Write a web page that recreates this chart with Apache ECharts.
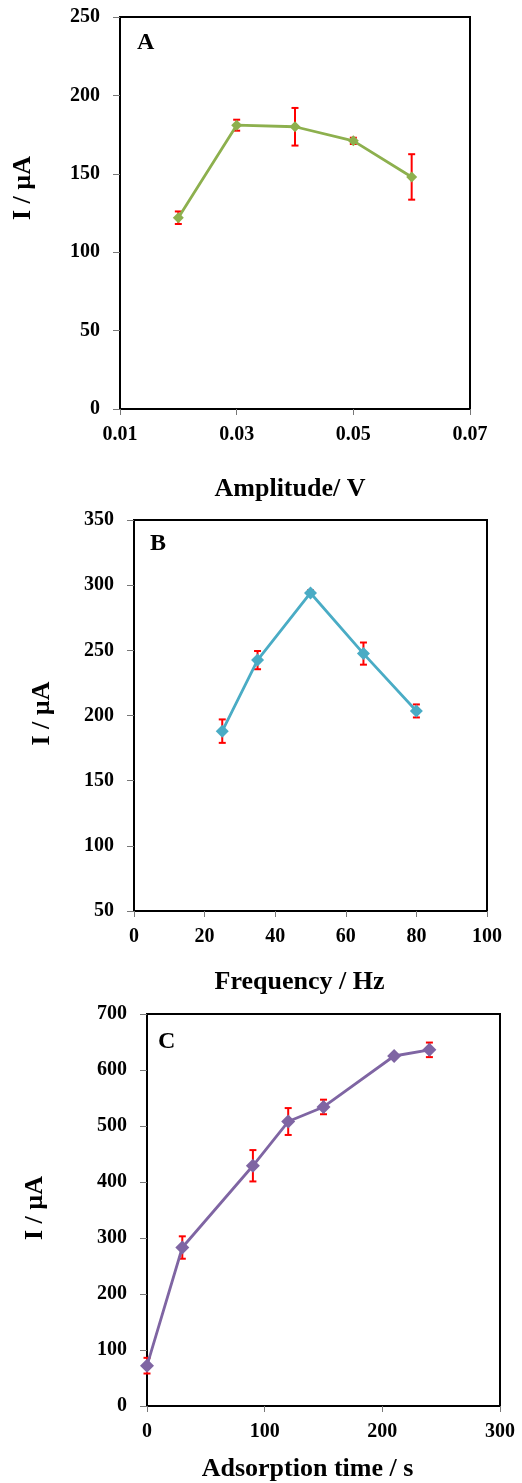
<!DOCTYPE html>
<html><head><meta charset="utf-8">
<script src="https://cdn.jsdelivr.net/npm/echarts@6/dist/echarts.min.js"></script>
<style>html,body{margin:0;padding:0;background:#fff}#c{width:522px;height:1483px}</style>
</head><body><div id="c"></div>
<script>
// Panel A: amplitude
const ampX = [0.02, 0.03, 0.04, 0.05, 0.06];
const ampI = [122, 181, 180, 171, 148];
const ampErr = [4, 3.5, 12, 2, 14.5];
// Panel B: frequency
const freqX = [25, 35, 50, 65, 80];
const freqI = [188, 242.5, 294, 247.5, 203.5];
const freqErr = [9, 7, 2, 8.5, 5];
// Panel C: adsorption time
const timeX = [0, 30, 90, 120, 150, 210, 240];
const timeI = [72, 283, 429, 508, 534, 625, 636];
const timeErr = [14, 20, 28, 24, 13, 3, 13];

const FONT = '"Liberation Serif","Times New Roman",serif';
const chart = echarts.init(document.getElementById('c'));

function pairs(xs, ys){ return xs.map((x,i)=>[x, ys[i]]); }
function errData(xs, ys, es){ return xs.map((x,i)=>[x, ys[i]-es[i], ys[i]+es[i]]); }

function errSeries(idx, xs, ys, es){
  return {
    type:'custom', xAxisIndex:idx, yAxisIndex:idx, z:1, silent:true,
    data: errData(xs, ys, es),
    encode:{x:0, y:[1,2]},
    renderItem:function(params, api){
      const lo = api.coord([api.value(0), api.value(1)]);
      const hi = api.coord([api.value(0), api.value(2)]);
      const w = 3.5;
      const st = {stroke:'#ff0000', lineWidth:2};
      return {type:'group', children:[
        {type:'line', shape:{x1:lo[0],y1:lo[1],x2:hi[0],y2:hi[1]}, style:st},
        {type:'line', shape:{x1:lo[0]-w,y1:lo[1],x2:lo[0]+w,y2:lo[1]}, style:st},
        {type:'line', shape:{x1:hi[0]-w,y1:hi[1],x2:hi[0]+w,y2:hi[1]}, style:st}
      ]};
    }
  };
}
function lineSeries(idx, xs, ys, color, size){
  return {
    type:'line', xAxisIndex:idx, yAxisIndex:idx, z:3,
    data: pairs(xs, ys), symbol:'diamond', symbolSize:size,
    lineStyle:{color:color, width:2.8}, itemStyle:{color:color}, silent:true
  };
}

const labelStyle = {color:'#000', fontFamily:FONT, fontWeight:'bold', fontSize:20};
const nameStyle = {color:'#000', fontFamily:FONT, fontWeight:'bold', fontSize:26};

function xAx(idx, min, max, interval, name, gap, fmt, pad){
  return {
    type:'value', gridIndex:idx, min:min, max:max, interval:interval,
    name:name, nameLocation:'middle', nameGap:gap, nameTextStyle:Object.assign({}, nameStyle, {padding:pad}),
    axisLine:{show:true, onZero:false, lineStyle:{color:'#000', width:2}},
    axisTick:{show:true, inside:false, length:6, lineStyle:{color:'#777', width:1}},
    axisLabel:Object.assign({margin:16, formatter:fmt}, labelStyle),
    splitLine:{show:false}
  };
}
function yAx(idx, min, max, interval, gap, pad){
  return {
    type:'value', gridIndex:idx, min:min, max:max, interval:interval,
    name:'I / µA', nameLocation:'middle', nameGap:gap, nameRotate:90,
    nameTextStyle:Object.assign({}, nameStyle, {padding:pad}),
    axisLine:{show:true, onZero:false, lineStyle:{color:'#000', width:2}},
    axisTick:{show:true, inside:false, length:7, lineStyle:{color:'#777', width:1}},
    axisLabel:Object.assign({margin:20}, labelStyle),
    splitLine:{show:false}
  };
}

const letterStyle = {fontFamily:FONT, fontWeight:'bold', fontSize:24, color:'#000'};
const option = {
  animation:false,
  backgroundColor:'#fff',
  title:[
    {text:'A', left:137, top:31, padding:0, textStyle:letterStyle},
    {text:'B', left:150, top:532, padding:0, textStyle:letterStyle},
    {text:'C', left:158, top:1030, padding:0, textStyle:letterStyle}
  ],
  grid:[
    {left:120, top:17, width:350, height:392, show:true, borderColor:'#000', borderWidth:2, backgroundColor:'transparent'},
    {left:134, top:520, width:353, height:391, show:true, borderColor:'#000', borderWidth:2, backgroundColor:'transparent'},
    {left:147, top:1014, width:353, height:392, show:true, borderColor:'#000', borderWidth:2, backgroundColor:'transparent'}
  ],
  xAxis:[
    xAx(0, 0.01, 0.07, 0.02, 'Amplitude/ V', 67, v=>v.toFixed(2), [0,10,0,0]),
    xAx(1, 0, 100, 20, 'Frequency / Hz', 58, v=>String(v), [0,22,0,0]),
    xAx(2, 0, 300, 100, 'Adsorption time / s', 50, v=>String(v), [0,32,0,0])
  ],
  yAxis:[
    yAx(0, 0, 250, 50, 84, [0,0,0,50]),
    yAx(1, 50, 350, 50, 79, [0,0,0,4]),
    yAx(2, 0, 700, 100, 99, [0,0,0,4])
  ],
  series:[
    errSeries(0, ampX, ampI, ampErr),
    lineSeries(0, ampX, ampI, '#8db04e', 11),
    errSeries(1, freqX, freqI, freqErr),
    lineSeries(1, freqX, freqI, '#4aacc5', 13),
    errSeries(2, timeX, timeI, timeErr),
    lineSeries(2, timeX, timeI, '#7f65a3', 14)
  ]
};
chart.setOption(option);
</script></body></html>
